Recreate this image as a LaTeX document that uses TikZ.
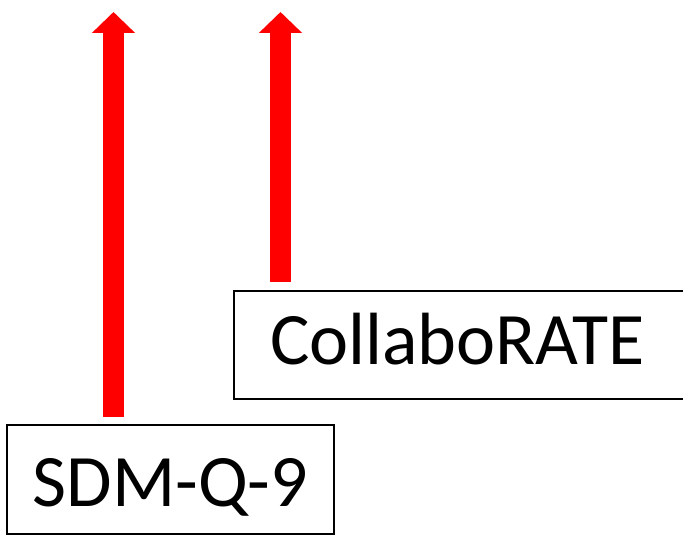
\documentclass[tikz,border=0pt]{standalone}
\usepackage{fontspec}
\setmainfont{Carlito}
\usetikzlibrary{arrows.meta}
\begin{document}
\begin{tikzpicture}[x=1pt,y=1pt,
  boxnode/.style={draw=black, line width=1.5pt, rectangle, inner sep=0pt,
    font=\fontsize{74}{80}\selectfont, text depth=0pt},
  bigarrow/.style={draw=red, line width=21pt,
    -{Triangle[width=42pt,length=21pt]}}]
\useasboundingbox (0,0) rectangle (683,535);
\clip (0,0) rectangle (683,535);
\node[boxnode, minimum width=327pt, minimum height=109pt, text height=53pt] (sdm) at (170.5,55.25) {SDM-Q-9};
\node[boxnode, minimum width=466pt, minimum height=108pt, text height=40pt,
  inner xsep=36pt, text width=394pt, align=left] (collab) at (467,190) {CollaboRATE};
\coordinate (a1s) at (113.5,118);
\coordinate (a1t) at (113.5,523);
\coordinate (a2s) at (280.5,253);
\coordinate (a2t) at (280.5,523);
\draw[bigarrow] (a1s) -- (a1t);
\draw[bigarrow] (a2s) -- (a2t);
\end{tikzpicture}
\end{document}
